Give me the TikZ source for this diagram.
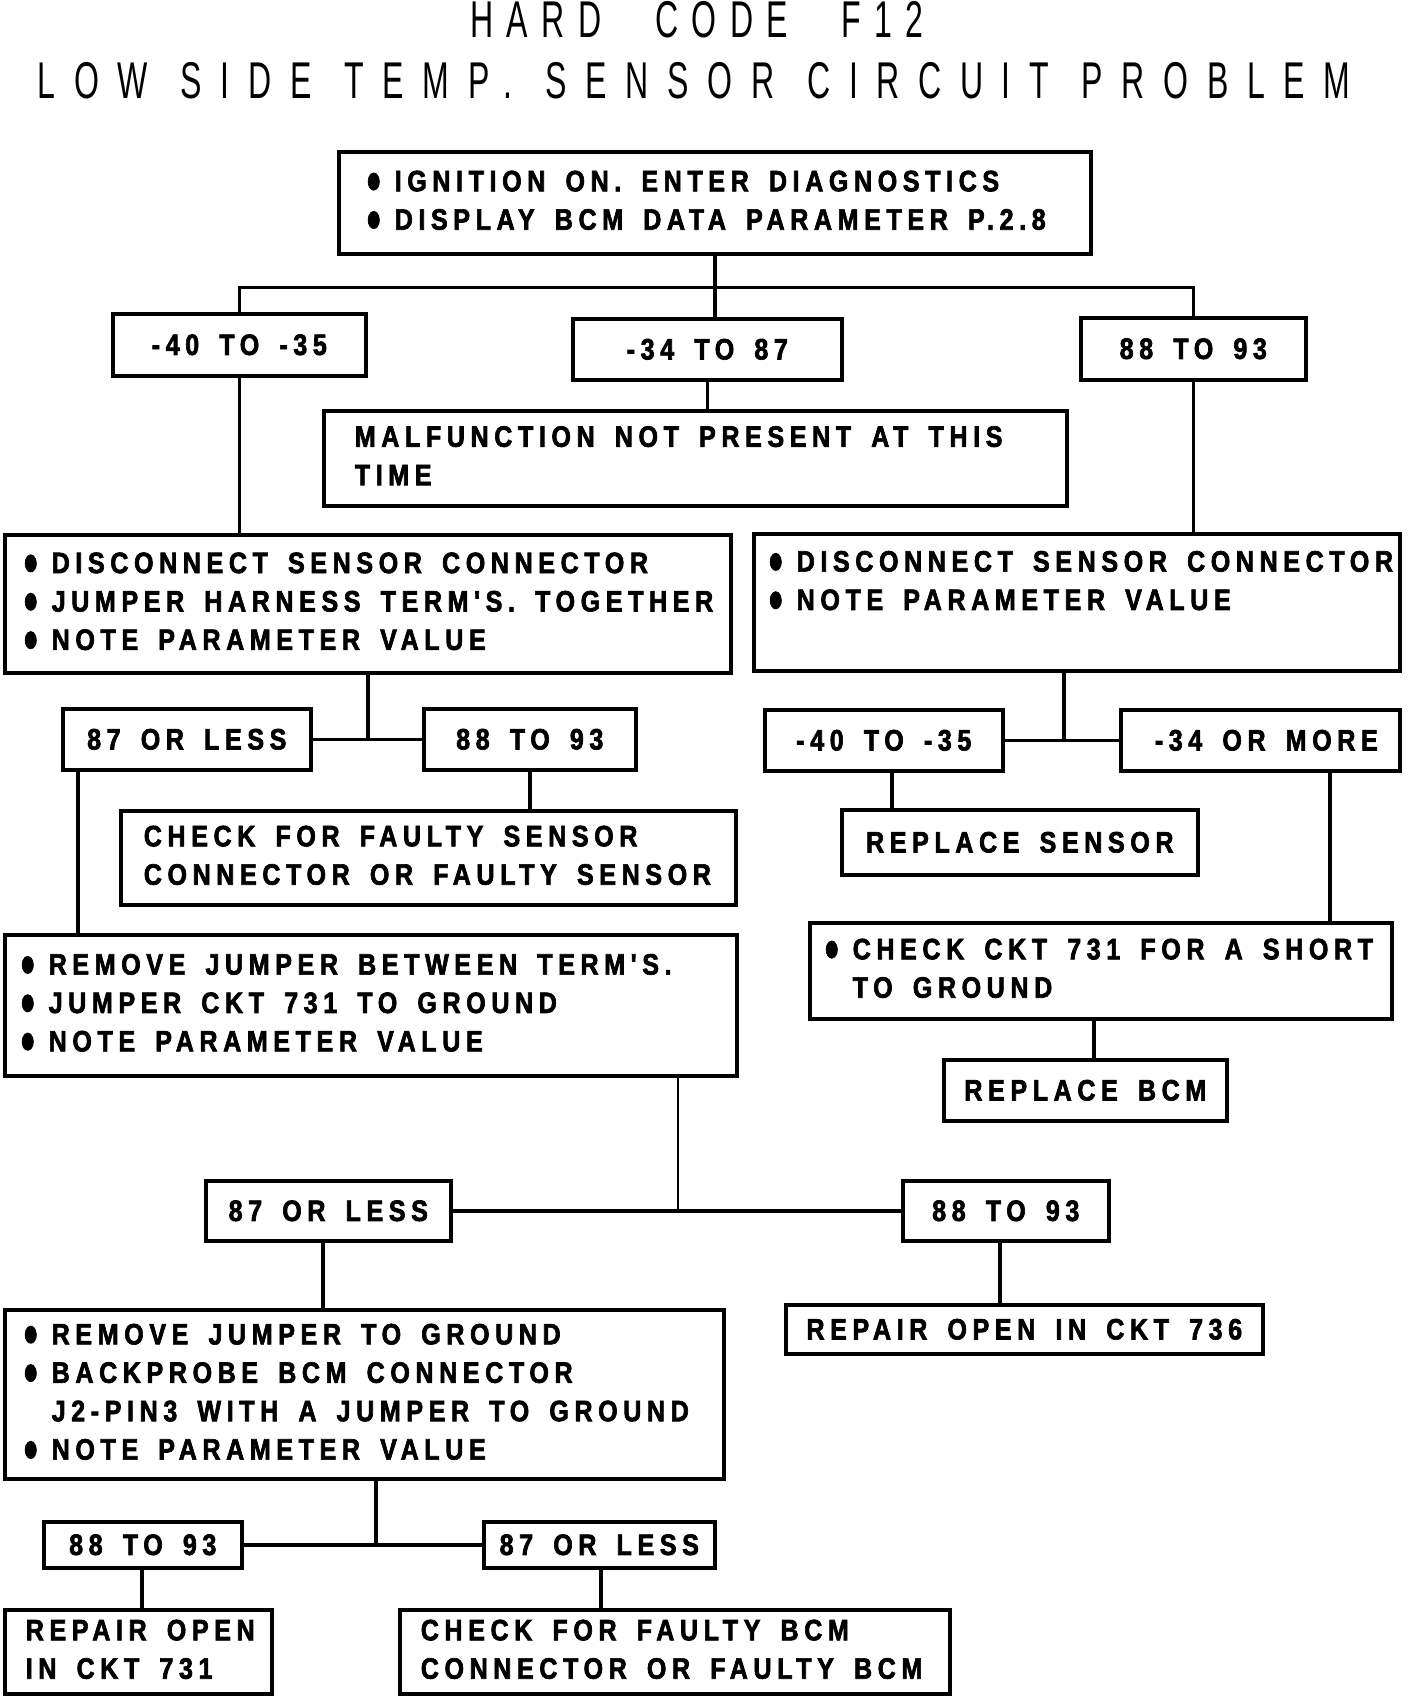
\documentclass[tikz,border=0pt]{standalone}
\usepackage{fontspec}
\usepackage{graphicx}
\usetikzlibrary{calc}
\newfontfamily\boxfam{Liberation Sans}[FakeStretch=0.85,LetterSpace=19,WordSpace=1.6,FakeBold=2.2]
\newfontfamily\titlefamA{Liberation Sans}[FakeStretch=0.62,LetterSpace=26,WordSpace=2.4]
\newfontfamily\titlefamB{Liberation Sans}[FakeStretch=0.62,LetterSpace=36,WordSpace=1.2]
\newcommand\boxfnt{\boxfam\bfseries\fontsize{29.5}{38.4}\selectfont}
\newcommand\titlefntA{\titlefamA\fontsize{51.7}{60}\selectfont}
\newcommand\titlefntB{\titlefamB\fontsize{51.7}{60}\selectfont}
\newcommand\bu{\raisebox{-1.5pt}{\scalebox{1.05}[1.35]{●}}\hspace{13pt}}
\newcommand\ind{\hphantom{\scalebox{1.05}[1.35]{●}}\hspace{13pt}}
\newcommand\lines[2]{\makebox[#1][l]{\begin{tabular}{@{}l@{}}#2\end{tabular}}}
\tikzset{
  bx/.style={draw, line width=3.6pt, inner ysep=0pt, inner xsep=0pt, anchor=north west, font=\boxfnt},
  conn/.style={line width=3.6pt},
  thinconn/.style={line width=2.2pt}
}
\begin{document}
\begin{tikzpicture}[x=1pt,y=-1pt]
\useasboundingbox[fill=white] (0,0) rectangle (1408,1696);
% titles
\node[font=\titlefntA, inner sep=0pt] (t1) at (697,20) {HARD CODE F12};
\node[font=\titlefntB, inner sep=0pt] (t2) at (694,81) {LOW SIDE TEMP. SENSOR CIRCUIT PROBLEM};
% boxes
\node[bx, inner xsep=27pt, minimum width=752, minimum height=102] (A) at (337,150)
  {\lines{698pt}{\bu IGNITION ON. ENTER DIAGNOSTICS\\\bu DISPLAY BCM DATA PARAMETER P.2.8}};
\node[bx, minimum width=253, minimum height=62] (B1) at (111,312) {-40 TO -35};
\node[bx, minimum width=269, minimum height=61] (B2) at (571,317) {-34 TO 87};
\node[bx, minimum width=225, minimum height=62] (B3) at (1079,316) {88 TO 93};
\node[bx, inner xsep=31pt, minimum width=743, minimum height=95] (C) at (322,409)
  {\lines{681pt}{MALFUNCTION NOT PRESENT AT THIS\\TIME}};
\node[bx, inner xsep=18pt, minimum width=726, minimum height=138] (D) at (3,533)
  {\lines{690pt}{\bu DISCONNECT SENSOR CONNECTOR\\\bu JUMPER HARNESS TERM'S. TOGETHER\\\bu NOTE PARAMETER VALUE}};
\node[bx, inner xsep=14pt, minimum width=646, minimum height=137] (E) at (752,532)
  {\lines{618pt}{\bu DISCONNECT SENSOR CONNECTOR\\\bu NOTE PARAMETER VALUE\\\mbox{}}};
\node[bx, minimum width=248, minimum height=61] (F1) at (61,707) {87 OR LESS};
\node[bx, minimum width=212, minimum height=61] (F2) at (422,707) {88 TO 93};
\node[bx, inner xsep=23pt, minimum width=615, minimum height=94] (G) at (119,809)
  {\lines{569pt}{CHECK FOR FAULTY SENSOR\\CONNECTOR OR FAULTY SENSOR}};
\node[bx, inner xsep=15pt, minimum width=732, minimum height=141] (H) at (3,933)
  {\lines{702pt}{\bu REMOVE JUMPER BETWEEN TERM'S.\\\bu JUMPER CKT 731 TO GROUND\\\bu NOTE PARAMETER VALUE}};
\node[bx, minimum width=238, minimum height=61] (I1) at (763,708) {-40 TO -35};
\node[bx, minimum width=279, minimum height=61] (I2) at (1119,708) {\hspace{12pt}-34 OR MORE};
\node[bx, minimum width=356, minimum height=65] (J) at (840,808) {REPLACE SENSOR};
\node[bx, inner xsep=14pt, minimum width=582, minimum height=96] (K) at (808,921)
  {\lines{554pt}{\bu CHECK CKT 731 FOR A SHORT\\\ind TO GROUND}};
\node[bx, minimum width=283, minimum height=61] (L) at (942,1058) {REPLACE BCM};
\node[bx, minimum width=245, minimum height=60] (M1) at (204,1179) {87 OR LESS};
\node[bx, minimum width=206, minimum height=60] (M2) at (901,1179) {88 TO 93};
\node[bx, minimum width=477, minimum height=49] (N) at (784,1303) {REPAIR OPEN IN CKT 736};
\node[bx, inner xsep=18pt, minimum width=719, minimum height=169] (O) at (3,1308)
  {\lines{683pt}{\bu REMOVE JUMPER TO GROUND\\\bu BACKPROBE BCM CONNECTOR\\\ind J2-PIN3 WITH A JUMPER TO GROUND\\\bu NOTE PARAMETER VALUE}};
\node[bx, minimum width=198, minimum height=46] (P1) at (42,1520) {88 TO 93};
\node[bx, minimum width=231, minimum height=46] (P2) at (482,1520) {87 OR LESS};
\node[bx, inner xsep=21pt, minimum width=267, minimum height=84] (Q) at (3,1608)
  {\lines{225pt}{REPAIR OPEN\\IN CKT 731}};
\node[bx, inner xsep=21pt, minimum width=550, minimum height=84] (R) at (398,1608)
  {\lines{508pt}{CHECK FOR FAULTY BCM\\CONNECTOR OR FAULTY BCM}};
% junction coordinates
\coordinate (jA) at ($(A.south)+(0,32)$);
\coordinate (eD) at ($(E.south west)+(312,0)$);
\coordinate (fD) at ($(F1.south west)+(17,0)$);
\coordinate (iA) at ($(I1.south west)+(129,0)$);
\coordinate (iB) at ($(I2.south west)+(211,0)$);
\coordinate (kD) at ($(K.south west)+(286,0)$);
\coordinate (hD) at ($(H.south west)+(675,0)$);
\coordinate (mA) at ($(M1.south west)+(119,0)$);
\coordinate (mB) at ($(M2.south west)+(99,0)$);
\coordinate (oD) at ($(O.south west)+(373,0)$);
\coordinate (pA) at ($(P1.south west)+(100,0)$);
\coordinate (pB) at ($(P2.south west)+(119,0)$);
% connectors
\draw[conn] (A.south) -- (A.south |- B2.north);
\draw[conn] (B1.north) -- (B1.north |- jA) -- (B3.north |- jA) -- (B3.north);
\draw[conn] (B2.south) -- (B2.south |- C.north);
\draw[conn] (B1.south) -- (B1.south |- D.north);
\draw[conn] (B3.south) -- (B3.south |- E.north);
\draw[conn] (D.south) -- (D.south |- F1.east);
\draw[conn] (F1.east) -- (F2.west);
\draw[conn] (F2.south) -- (F2.south |- G.north);
\draw[conn] (fD) -- (fD |- H.north);
\draw[conn] (eD) -- (eD |- I1.east);
\draw[conn] (I1.east) -- (I2.west);
\draw[conn] (iA) -- (iA |- J.north);
\draw[conn] (iB) -- (iB |- K.north);
\draw[conn] (kD) -- (kD |- L.north);
\draw[thinconn] (hD) -- (hD |- M1.east);
\draw[conn] (M1.east) -- (M2.west);
\draw[conn] (mA) -- (mA |- O.north);
\draw[conn] (mB) -- (mB |- N.north);
\draw[conn] (oD) -- (oD |- P1.east);
\draw[conn] (P1.east) -- (P2.west);
\draw[conn] (pA) -- (pA |- Q.north);
\draw[conn] (pB) -- (pB |- R.north);
\end{tikzpicture}
\end{document}
